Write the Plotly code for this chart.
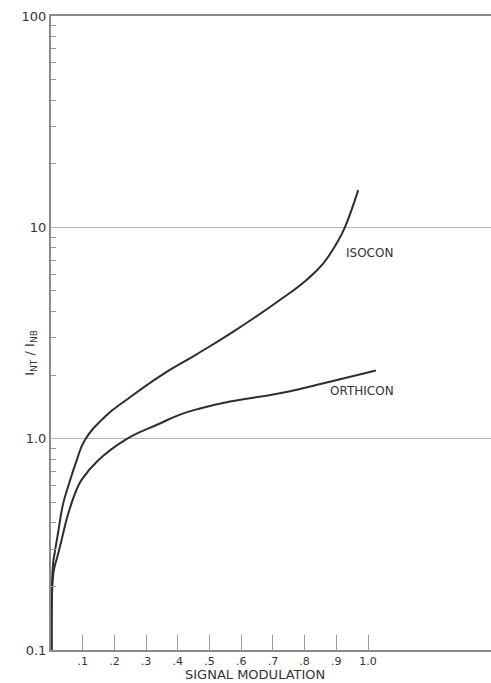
import math
import plotly.graph_objects as go

# Data
isocon_x = [0.002, 0.006, 0.012, 0.022, 0.038, 0.055, 0.081, 0.107, 0.170, 0.244, 0.349, 0.454,
            0.574, 0.722, 0.807, 0.859, 0.901, 0.927, 0.969]
isocon_y = [0.1, 0.25, 0.29, 0.356, 0.49, 0.60, 0.79, 0.985, 1.27, 1.55, 2.0, 2.48,
            3.2, 4.53, 5.65, 6.76, 8.4, 10.0, 15.0]

orthicon_x = [0.002, 0.006, 0.012, 0.020, 0.033, 0.054, 0.080, 0.097, 0.149, 0.233, 0.338, 0.407,
              0.470, 0.565, 0.722, 0.880, 1.025]
orthicon_y = [0.1, 0.22, 0.25, 0.276, 0.33, 0.44, 0.57, 0.64, 0.79, 0.985, 1.17, 1.30,
              1.39, 1.50, 1.64, 1.86, 2.10]

x_tickvals = [0.1, 0.2, 0.3, 0.4, 0.5, 0.6, 0.7, 0.8, 0.9, 1.0]
x_ticktext = [".1", ".2", ".3", ".4", ".5", ".6", ".7", ".8", ".9", "1.0"]
y_tickvals = [0.1, 1, 10, 100]
y_ticktext = ["0.1", "1.0", "10", "100"]
y_minor = [m * d for d in (0.1, 1, 10) for m in range(2, 10)]

labels = ["ISOCON", "ORTHICON"]
label_x = [1.006, 0.981]
label_y = [7.6, 1.68]

curve_color = "#2e2e2e"
axis_color = "#8a8a8a"
font_family = "DejaVu Sans"

fig = go.Figure()
for xs, ys in ((isocon_x, isocon_y), (orthicon_x, orthicon_y)):
    fig.add_trace(go.Scatter(x=xs, y=ys, mode="lines",
                             line=dict(color=curve_color, width=2, shape="spline", smoothing=1.3),
                             showlegend=False, hoverinfo="skip"))

for t, lx, ly in zip(labels, label_x, label_y):
    fig.add_annotation(x=lx, y=math.log10(ly), xref="x", yref="y", text=t, showarrow=False,
                       font=dict(family=font_family, size=12, color="#333"), yanchor="middle")

fig.add_annotation(x=0.644, y=0, xref="x", yref="paper", yshift=-24, text="SIGNAL MODULATION",
                   showarrow=False, font=dict(family=font_family, size=13, color="#333"),
                   yanchor="middle")
fig.add_annotation(x=0, y=0.468, xref="paper", yref="paper", xshift=-31,
                   text="I<sub>NT</sub> / I<sub>NB</sub>", textangle=-90, showarrow=False,
                   font=dict(family=font_family, size=13, color="#333"))

fig.update_layout(
    width=491, height=683,
    margin=dict(l=51, r=0, t=16, b=33),
    paper_bgcolor="white", plot_bgcolor="white",
    font=dict(family=font_family, size=12, color="#333"),
    xaxis=dict(range=[0, 1.388], tickvals=x_tickvals, ticktext=x_ticktext,
               ticks="inside", ticklen=15, tickwidth=1, tickcolor="#999",
               showline=True, linecolor=axis_color, linewidth=2, mirror=True,
               showgrid=False, zeroline=False, fixedrange=True,
               tickfont=dict(family=font_family, size=11, color="#333")),
    yaxis=dict(type="log", range=[-1, 2], tickvals=y_tickvals, ticktext=y_ticktext,
               ticks="", showline=True, linecolor=axis_color, linewidth=2,
               showgrid=True, gridcolor="#b5b5b5", gridwidth=1, zeroline=False,
               minor=dict(tickvals=y_minor, ticks="inside", ticklen=5, tickcolor="#999", showgrid=False),
               tickfont=dict(family=font_family, size=13, color="#333"), fixedrange=True),
)

fig.write_html("out.html")
